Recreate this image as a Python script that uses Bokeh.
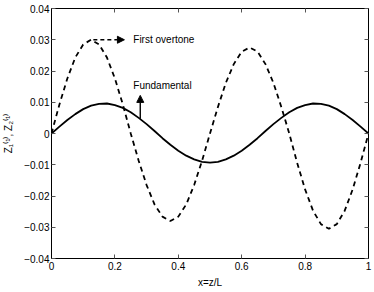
from bokeh.plotting import figure
from bokeh.models import (LinearAxis, FixedTicker, Arrow, NormalHead, Label,
                          Range1d, CustomJSTickFormatter)
from bokeh.embed import file_html
from bokeh.resources import INLINE

# ---- data ----
x_pos = [0.0, 0.025, 0.05, 0.075, 0.1, 0.125, 0.15, 0.175, 0.2, 0.225,
         0.25, 0.275, 0.3, 0.325, 0.35, 0.375, 0.4, 0.425, 0.45, 0.475,
         0.5, 0.525, 0.55, 0.575, 0.6, 0.625, 0.65, 0.675, 0.7, 0.725,
         0.75, 0.775, 0.8, 0.825, 0.85, 0.875, 0.9, 0.925, 0.95, 0.975, 1.0]

fundamental = [0.0, 0.0022, 0.0043, 0.0062, 0.0078, 0.0089, 0.0095, 0.0096,
               0.0091, 0.0082, 0.0068, 0.0050, 0.0030, 0.0008, -0.0015,
               -0.0036, -0.0055, -0.0071, -0.0083, -0.0091, -0.0093,
               -0.0091, -0.0083, -0.0071, -0.0055, -0.0036, -0.0015,
               0.0008, 0.0030, 0.0050, 0.0068, 0.0082, 0.0091, 0.0096,
               0.0095, 0.0089, 0.0078, 0.0062, 0.0043, 0.0022, 0.0]

first_overtone = [0.0, 0.0093, 0.0176, 0.0243, 0.0285, 0.0300, 0.0285,
                  0.0243, 0.0176, 0.0093, 0.0,
                  -0.0087, -0.0165, -0.0227, -0.0266, -0.0280, -0.0266,
                  -0.0227, -0.0165, -0.0087, 0.0,
                  0.0085, 0.0162, 0.0222, 0.0262, 0.0275, 0.0262,
                  0.0222, 0.0162, 0.0085, 0.0,
                  -0.0094, -0.0179, -0.0247, -0.0290, -0.0305, -0.0290,
                  -0.0247, -0.0179, -0.0094, 0.0]

x_ticks = [0, 0.2, 0.4, 0.6, 0.8, 1.0]
x_tick_labels = ["0", "0.2", "0.4", "0.6", "0.8", "1"]
y_ticks = [-0.04, -0.03, -0.02, -0.01, 0, 0.01, 0.02, 0.03, 0.04]
y_tick_labels = ["\u22120.04", "\u22120.03", "\u22120.02", "\u22120.01", "0",
                 "0.01", "0.02", "0.03", "0.04"]

FONT = "Liberation Sans"

p = figure(width=372, height=290, output_backend="svg", toolbar_location=None,
           x_range=Range1d(0, 1), y_range=Range1d(-0.04, 0.04),
           min_border_left=44, min_border_right=4, min_border_top=8,
           min_border_bottom=32, x_axis_label="x=z/L",
           y_axis_label="Z\u2081\u207d\u00b9\u207e, Z\u2082\u207d\u00b9\u207e")
p.background_fill_color = "white"
p.border_fill_color = "white"
p.grid.visible = False
p.outline_line_color = "black"
p.outline_line_width = 1

def style_axis(ax, ticks, labels=None, show_labels=True):
    ax.ticker = FixedTicker(ticks=ticks)
    ax.major_tick_in = 4
    ax.major_tick_out = 0
    ax.minor_tick_line_color = None
    ax.axis_line_color = "black"
    ax.major_tick_line_color = "#555555"
    if show_labels:
        ax.major_label_overrides = {t: l for t, l in zip(ticks, labels)}
        ax.major_label_text_font = FONT
        ax.major_label_text_font_size = "10px"
        ax.major_label_text_color = "black"
        ax.major_label_standoff = 3
        ax.axis_label_text_font = FONT
        ax.axis_label_text_font_size = "10px"
        ax.axis_label_text_font_style = "normal"
        ax.axis_label_text_color = "black"
    else:
        ax.formatter = CustomJSTickFormatter(code="return ''")
        ax.major_label_standoff = 0

style_axis(p.xaxis[0], x_ticks, x_tick_labels)
style_axis(p.yaxis[0], y_ticks, y_tick_labels)
p.xaxis[0].axis_label_standoff = 4
p.yaxis[0].axis_label_standoff = 7
p.yaxis[0].major_label_standoff = 2

top_ax = LinearAxis()
style_axis(top_ax, x_ticks, show_labels=False)
p.add_layout(top_ax, "above")
right_ax = LinearAxis()
style_axis(right_ax, y_ticks, show_labels=False)
p.add_layout(right_ax, "right")

p.line(x_pos, fundamental, line_color="black", line_width=1.8)
p.line(x_pos, first_overtone, line_color="black", line_width=1.8,
       line_dash="5 4")

p.add_layout(Arrow(end=NormalHead(size=7, fill_color="black",
                                  line_color="black"),
                   x_start=0.132, y_start=0.030, x_end=0.23, y_end=0.030,
                   line_color="black", line_width=1.6, line_dash="4 3"))
p.add_layout(Arrow(end=NormalHead(size=7, fill_color="black",
                                  line_color="black"),
                   x_start=0.28, y_start=0.0047, x_end=0.28, y_end=0.0122,
                   line_color="black", line_width=1.4))

p.add_layout(Label(x=0.258, y=0.030, text="First overtone",
                   text_font=FONT, text_font_size="10px",
                   text_baseline="middle", text_color="black"))
p.add_layout(Label(x=0.258, y=0.0154, text="Fundamental",
                   text_font=FONT, text_font_size="10px",
                   text_baseline="middle", text_color="black"))

open("out.html", "w").write(file_html(p, INLINE))
